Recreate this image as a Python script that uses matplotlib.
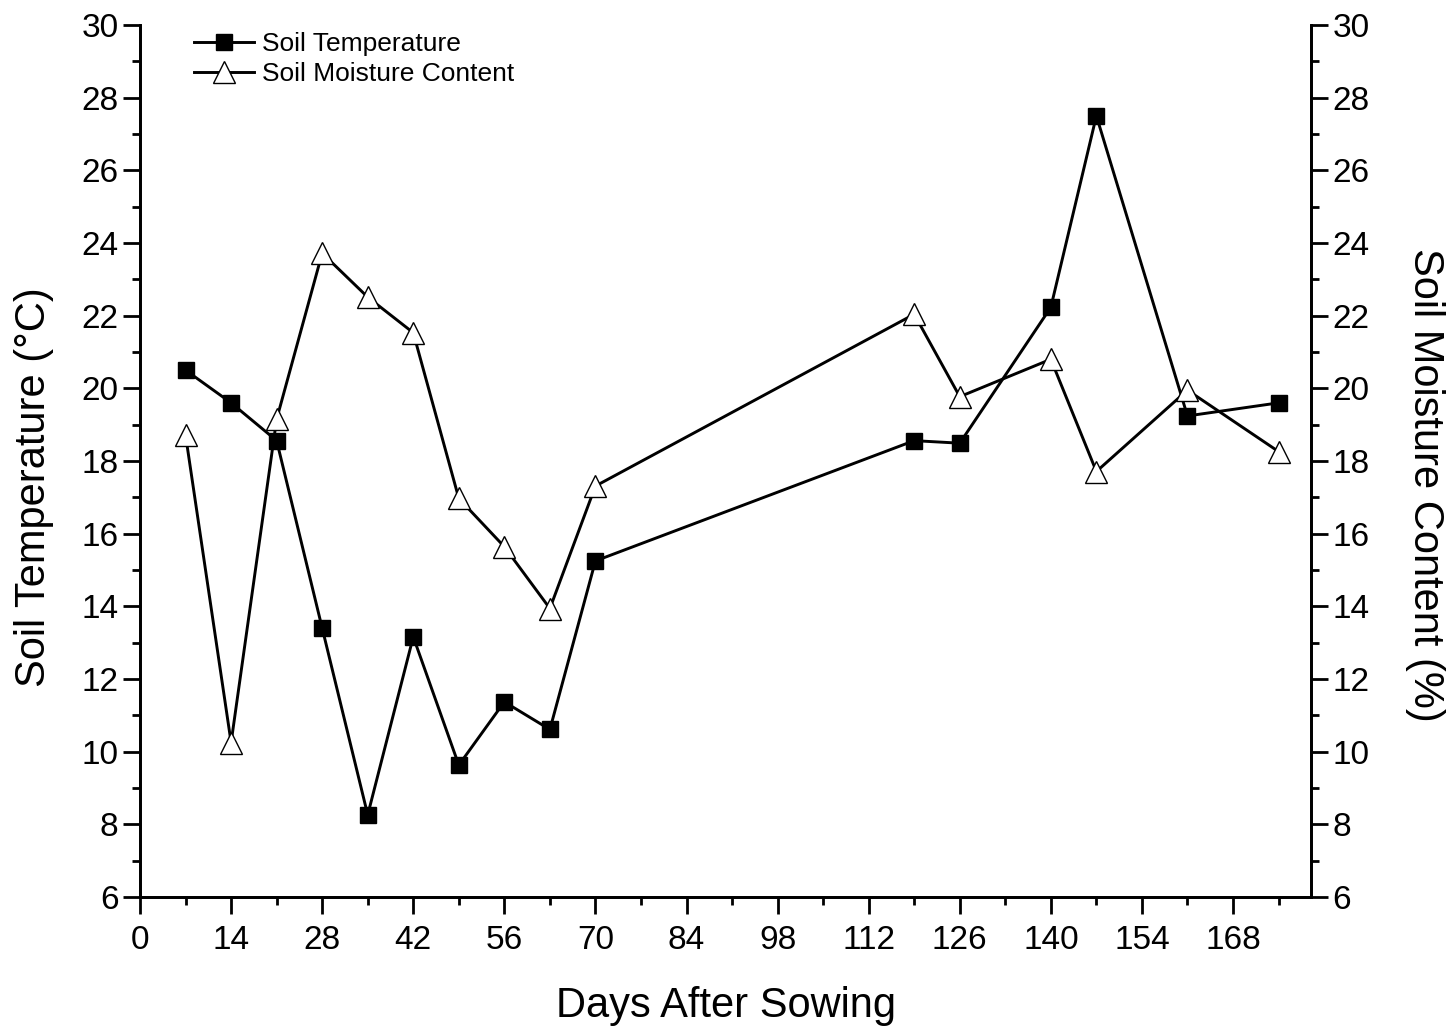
import matplotlib.pyplot as plt
from matplotlib.ticker import MultipleLocator

plt.rcParams['font.family'] = ['Liberation Sans', 'DejaVu Sans']

days = [7, 14, 21, 28, 35, 42, 49, 56, 63, 70, 119, 126, 140, 147, 161, 175]
soil_temp = [20.5, 19.6, 18.56, 13.4, 8.26, 13.16, 9.63, 11.37, 10.61, 15.25,
             18.56, 18.49, 22.23, 27.5, 19.24, 19.6]
soil_moist = [18.71, 10.25, 19.15, 23.72, 22.51, 21.53, 16.97, 15.64, 13.94, 17.31,
              22.04, 19.77, 20.8, 17.71, 19.95, 18.26]

fig = plt.figure(figsize=(14.54, 10.29), dpi=100)
ax = fig.add_axes([0.0963, 0.1283, 0.8054, 0.8474])
ax2 = ax.twinx()

l1, = ax.plot(days, soil_temp, color='black', lw=2.1, marker='s', markersize=11,
              markerfacecolor='black', markeredgecolor='black', label='Soil Temperature')
l2, = ax2.plot(days, soil_moist, color='black', lw=2.1, marker='^', markersize=16,
               markerfacecolor='white', markeredgecolor='black', markeredgewidth=1,
               label='Soil Moisture Content')

for a in (ax, ax2):
    a.set_xlim(0, 180)
    a.set_ylim(6, 30)
    a.yaxis.set_major_locator(MultipleLocator(2))
    a.yaxis.set_minor_locator(MultipleLocator(1))
    a.spines['top'].set_visible(False)
    for s in a.spines.values():
        s.set_linewidth(2)
    a.tick_params(which='major', direction='out', length=12, width=2, labelsize=24)
    a.tick_params(which='minor', direction='out', length=6, width=2)

ax.xaxis.set_major_locator(MultipleLocator(14))
ax.xaxis.set_minor_locator(MultipleLocator(7))
ax.tick_params(axis='x', pad=8)

ax.set_xlabel('Days After Sowing', fontsize=30, labelpad=22)
ax.set_ylabel('Soil Temperature (°C)', fontsize=30)
ax.yaxis.set_label_coords(-0.0734, 0.47)
ax2.set_ylabel('Soil Moisture Content (%)', fontsize=30, rotation=-90)
ax2.yaxis.set_label_coords(1.114, 0.4725)

ax2.legend(handles=[l1, l2], loc='upper left', bbox_to_anchor=(0.0256, 1.0195),
           frameon=False, fontsize=19, handlelength=2.27, handletextpad=0.3,
           labelspacing=0.25)

fig.savefig('out.png', dpi=100)
